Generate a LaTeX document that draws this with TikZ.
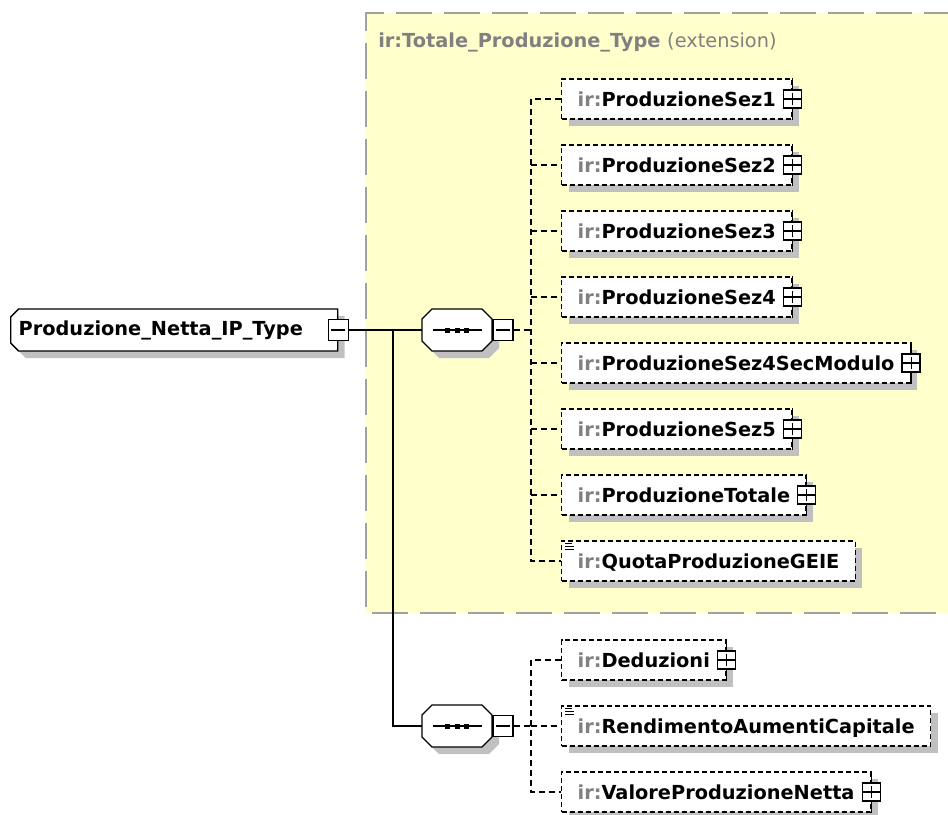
\documentclass[tikz,border=0pt]{standalone}
\usepackage{fontspec}
\setmainfont{DejaVu Sans}
\usetikzlibrary{shapes.misc,shadows}

\definecolor{irgray}{RGB}{128,128,128}
\definecolor{extyellow}{RGB}{255,255,204}
\definecolor{extborder}{RGB}{160,160,160}
\definecolor{shadowgray}{RGB}{192,192,192}

\newcommand{\elfont}{\fontsize{14.5pt}{17pt}\selectfont\bfseries}
\newcommand{\irname}[1]{{\color{irgray}ir:}#1}
\newcommand{\irplus}[1]{\irname{#1}\hspace{6pt}}

\tikzset{
  boxshadow/.style={drop shadow={shadow xshift=5.25pt,shadow yshift=-5.25pt,fill=shadowgray,opacity=1}},
  typebox/.style={chamfered rectangle,chamfered rectangle corners={north west,south west},
    chamfered rectangle xsep=3pt,chamfered rectangle ysep=3pt,draw,line width=1pt,fill=white,boxshadow,
    anchor=west,minimum width=245.25pt,minimum height=31.5pt,inner xsep=0pt,font=\elfont},
  seqbox/.style={minimum width=52.5pt,minimum height=31.5pt,inner sep=0pt},
  octpath/.style={insert path={++(-35,-11) -- ++(10,-10) -- ++(50,0) -- ++(10,10) -- ++(0,22)
    -- ++(-10,10) -- ++(-50,0) -- ++(-10,-10) -- cycle}},
  elbox/.style={draw,dash pattern=on 3.75pt off 2.25pt,line width=1pt,fill=white,boxshadow,
    anchor=west,minimum height=30pt,inner xsep=12pt,text height=10.5pt,text depth=0pt,font=\elfont},
  minusbox/.style={draw,fill=white,line width=1pt,minimum width=15pt,minimum height=15.75pt,inner sep=0pt,
    path picture={\draw[line width=0.9pt,shorten <=2.25pt,shorten >=2.25pt]
      (path picture bounding box.west) -- (path picture bounding box.east);}},
  plusbox/.style={draw,fill=white,line width=1pt,minimum size=13.5pt,inner sep=0pt,
    path picture={\draw[line width=0.9pt,shorten <=2pt,shorten >=2pt]
      (path picture bounding box.west) -- (path picture bounding box.east)
      (path picture bounding box.south) -- (path picture bounding box.north);}},
  tree/.style={line width=1.1pt},
  conn/.style={dash pattern=on 4.5pt off 3pt,line width=1pt},
  extline/.style={draw=extborder,line width=1.5pt,dash pattern=on 27pt off 9pt}
}

\begin{document}
\begin{tikzpicture}[x=0.75pt,y=0.75pt,yscale=-1,xscale=1]
\useasboundingbox (0,0) rectangle (948,814);

%Extension area
\fill[extyellow] (366,13) rectangle (960,613);
\draw[extline] (960,13) -- (366,13) -- (366,613) -- (960,613);
% Text Node
\node[anchor=base west,inner sep=0pt,font=\elfont,text=irgray] (extTitle) at (378,47)
  {ir:Totale\_Produzione\_Type {\mdseries(extension)}};

%Type node
\node[typebox] (main) at (10,330) {\makebox[233.25pt][l]{Produzione\_Netta\_IP\_Type}};
\node[minusbox] (mainMinus) at (main.east) {};

%Sequences
\node[seqbox] (seqTop) at (457,330) {};
\fill[shadowgray] ([shift={(7,7)}]seqTop.center) [octpath];
\draw[fill=white,line width=1pt] (seqTop.center) [octpath];
\node[minusbox,anchor=west] (seqTopMinus) at (seqTop.east) {};
\draw[line width=1pt] (seqTop.center) ++(-24,0) -- ++(49,0);
\fill (seqTop.center) ++(-12,-2.5) rectangle ++(5,5);
\fill (seqTop.center) ++(-2.5,-2.5) rectangle ++(5,5);
\fill (seqTop.center) ++(7,-2.5) rectangle ++(5,5);

\node[seqbox] (seqBot) at (457,726) {};
\fill[shadowgray] ([shift={(7,7)}]seqBot.center) [octpath];
\draw[fill=white,line width=1pt] (seqBot.center) [octpath];
\node[minusbox,anchor=west] (seqBotMinus) at (seqBot.east) {};
\draw[line width=1pt] (seqBot.center) ++(-24,0) -- ++(49,0);
\fill (seqBot.center) ++(-12,-2.5) rectangle ++(5,5);
\fill (seqBot.center) ++(-2.5,-2.5) rectangle ++(5,5);
\fill (seqBot.center) ++(7,-2.5) rectangle ++(5,5);

%Elements of the extension
\node[elbox] (sez1) at (561,99) {\irplus{ProduzioneSez1}};
\node[elbox] (sez2) at (561,165) {\irplus{ProduzioneSez2}};
\node[elbox] (sez3) at (561,231) {\irplus{ProduzioneSez3}};
\node[elbox] (sez4) at (561,297) {\irplus{ProduzioneSez4}};
\node[elbox] (sez4sec) at (561,363) {\irplus{ProduzioneSez4SecModulo}};
\node[elbox] (sez5) at (561,429) {\irplus{ProduzioneSez5}};
\node[elbox] (totale) at (561,495) {\irplus{ProduzioneTotale}};
\node[elbox] (quota) at (561,561) {\irname{QuotaProduzioneGEIE}};

%Elements of the second sequence
\node[elbox] (dedu) at (561,660) {\irplus{Deduzioni}};
\node[elbox] (rend) at (561,726) {\irname{RendimentoAumentiCapitale}};
\node[elbox] (valore) at (561,792) {\irplus{ValoreProduzioneNetta}};

%Plus boxes
\draw[line width=1pt] (sez1.north east) -- (sez1.south east);
\node[plusbox] (sez1Plus) at (sez1.east) {};
\draw[line width=1pt] (sez2.north east) -- (sez2.south east);
\node[plusbox] (sez2Plus) at (sez2.east) {};
\draw[line width=1pt] (sez3.north east) -- (sez3.south east);
\node[plusbox] (sez3Plus) at (sez3.east) {};
\draw[line width=1pt] (sez4.north east) -- (sez4.south east);
\node[plusbox] (sez4Plus) at (sez4.east) {};
\draw[line width=1pt] (sez4sec.north east) -- (sez4sec.south east);
\node[plusbox] (sez4secPlus) at (sez4sec.east) {};
\draw[line width=1pt] (sez5.north east) -- (sez5.south east);
\node[plusbox] (sez5Plus) at (sez5.east) {};
\draw[line width=1pt] (totale.north east) -- (totale.south east);
\node[plusbox] (totalePlus) at (totale.east) {};
\draw[line width=1pt] (dedu.north east) -- (dedu.south east);
\node[plusbox] (deduPlus) at (dedu.east) {};
\draw[line width=1pt] (valore.north east) -- (valore.south east);
\node[plusbox] (valorePlus) at (valore.east) {};

%Simple content icons
\draw[line width=0.75pt] (quota.north west) ++(4,3) -- ++(7,0) ++(-7,3) -- ++(9,0) ++(-9,3) -- ++(9,0);
\draw[line width=0.75pt] (rend.north west) ++(4,3) -- ++(7,0) ++(-7,3) -- ++(9,0) ++(-9,3) -- ++(9,0);

%Connectors
\draw[tree] (mainMinus.east) -- (seqTop.west);
\coordinate (trunk) at (393,330);
\draw[tree] (trunk) |- (seqBot.west);

\draw[conn] (seqTopMinus.east) -- (531,330) coordinate (spineTop);
\draw[conn] (sez1.west) -| (spineTop) |- (quota.west);
\draw[conn] (spineTop |- sez2.west) -- (sez2.west);
\draw[conn] (spineTop |- sez3.west) -- (sez3.west);
\draw[conn] (spineTop |- sez4.west) -- (sez4.west);
\draw[conn] (spineTop |- sez4sec.west) -- (sez4sec.west);
\draw[conn] (spineTop |- sez5.west) -- (sez5.west);
\draw[conn] (spineTop |- totale.west) -- (totale.west);

\draw[conn] (seqBotMinus.east) -- (531,726) coordinate (spineBot);
\draw[conn] (dedu.west) -| (spineBot) |- (valore.west);
\draw[conn] (spineBot) -- (rend.west);
\end{tikzpicture}
\end{document}
